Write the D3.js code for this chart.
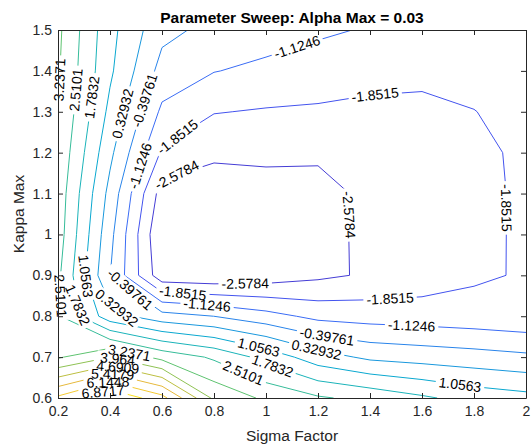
<!DOCTYPE html>
<html>
<head>
<meta charset="utf-8">
<script src="https://cdn.jsdelivr.net/npm/d3@7"></script>
<style>
  body { margin: 0; background: #fff; }
  text { font-family: Arial, "Liberation Sans", Helvetica, sans-serif; }
</style>
</head>
<body>
<svg id="chart" width="532" height="446"></svg>
<script>
// grid of the sweep
const sigmaFactor = [0.2, 0.4, 0.6, 0.8, 1.0, 1.2, 1.4, 1.6, 1.8, 2.0];
const kappaMax = [0.6, 0.7, 0.8, 0.9, 1.0, 1.1, 1.2, 1.3, 1.4, 1.5];

// one row per kappaMax value, one column per sigmaFactor value
const zValues = [
  [6.30, 7.60, 6.40, 3.80, 3.10, 2.60, 2.30, 1.90, 1.50, 1.29],
  [3.15, 3.95, 3.00, 2.40, 1.53, 0.66, 0.18, 0.03, -0.10, -0.25],
  [2.60, 0.63, -0.10, -0.40, -0.85, -1.32, -1.43, -1.49, -1.58, -1.70],
  [2.66, -0.38, -3.06, -3.15, -3.00, -2.73, -2.48, -2.25, -1.95, -1.79],
  [2.87, -0.18, -3.30, -3.10, -2.95, -2.75, -2.46, -2.30, -2.10, -1.70],
  [2.95, 0.10, -2.90, -2.96, -2.91, -2.85, -2.40, -2.30, -2.10, -1.70],
  [3.10, 0.50, -1.95, -2.45, -2.40, -2.45, -2.30, -2.20, -2.05, -1.69],
  [3.24, 0.87, -1.27, -1.82, -1.91, -1.94, -2.01, -2.00, -1.86, -1.72],
  [3.32, 1.18, -0.66, -1.10, -1.29, -1.50, -1.62, -1.70, -1.72, -1.70],
  [3.39, 1.28, -0.20, -0.60, -0.80, -1.00, -1.19, -1.30, -1.40, -1.50]
];

const levelList = [-2.5784, -1.8515, -1.1246, -0.39761, 0.32932, 1.0563, 1.7832,
  2.5101, 3.2371, 3.964, 4.6909, 5.4179, 6.1448, 6.8717];

const xTicks = [0.2, 0.4, 0.6, 0.8, 1, 1.2, 1.4, 1.6, 1.8, 2];
const yTicks = [0.6, 0.7, 0.8, 0.9, 1, 1.1, 1.2, 1.3, 1.4, 1.5];

// where clabel put the labels (sigma, kappa), snapped onto the line below
const labelSpots = [
  [3.2371, 0.215, 1.378], [2.5101, 0.273, 1.353], [1.7832, 0.323, 1.336],
  [0.32932, 0.438, 1.297], [-0.39761, 0.527, 1.329], [-1.1246, 0.504, 1.17],
  [-1.8515, 0.66, 1.238], [-2.5784, 0.66, 1.14], [-1.1246, 1.12, 1.458],
  [-1.8515, 1.42, 1.34], [-2.5784, 1.315, 1.048], [-1.8515, 1.927, 1.065],
  [-2.5784, 0.92, 0.879], [-1.8515, 0.68, 0.857], [-1.1246, 0.773, 0.823],
  [-1.8515, 1.477, 0.845], [-1.1246, 1.56, 0.776], [-0.39761, 0.477, 0.866],
  [0.32932, 0.43, 0.825], [1.0563, 0.315, 0.9], [2.5101, 0.23, 0.85],
  [1.7832, 0.30, 0.83], [3.2371, 0.477, 0.717], [3.964, 0.43, 0.698],
  [4.6909, 0.43, 0.676], [5.4179, 0.41, 0.658], [6.1448, 0.39, 0.644],
  [6.8717, 0.37, 0.622], [-0.39761, 1.235, 0.752], [0.32932, 1.196, 0.722],
  [1.0563, 0.973, 0.727], [1.7832, 1.035, 0.698], [2.5101, 0.93, 0.686],
  [1.0563, 1.746, 0.632]
];

const W = 532, H = 446;
const axisColor = '#262626';
const svg = d3.select('#chart');

const x = d3.scaleLinear().domain([0.2, 2]).range([58, 526]);
const y = d3.scaleLinear().domain([0.6, 1.5]).range([398, 30]);
const plotLeft = x.range()[0], plotRight = x.range()[1];
const plotTop = y.range()[1], plotBottom = y.range()[0];

// parula over the data range (one level step beyond the outer levels)
const step = levelList[1] - levelList[0];
const parulaStops = ['#3e26a8', '#4747eb', '#3a6cf5', '#2090e4', '#0aa8d0', '#22b9ad',
  '#5ec370', '#a8c244', '#e6b93c', '#fbd22e', '#f9fb0e'];
const zLo = levelList[0] - step, zHi = levelList[levelList.length - 1] + step;
const color = d3.scaleLinear()
  .domain(parulaStops.map((_, i) => zLo + (zHi - zLo) * i / (parulaStops.length - 1)))
  .range(parulaStops);

// contours over the grid
const nx = sigmaFactor.length, ny = kappaMax.length;
const flat = [];
zValues.forEach(row => row.forEach(v => flat.push(v)));
const gx = d3.scaleLinear().domain([0.5, nx - 0.5]).range([x(sigmaFactor[0]), x(sigmaFactor[nx - 1])]);
const gy = d3.scaleLinear().domain([0.5, ny - 0.5]).range([y(kappaMax[0]), y(kappaMax[ny - 1])]);
const contours = d3.contours().size([nx, ny]).thresholds(levelList)(flat);
const path = d3.geoPath(d3.geoTransform({
  point: function (a, b) { this.stream.point(gx(a), gy(b)); }
}));

const defs = svg.append('defs');
defs.append('clipPath').attr('id', 'plotClip')
  .append('rect').attr('x', plotLeft).attr('y', plotTop)
  .attr('width', plotRight - plotLeft).attr('height', plotBottom - plotTop);
const mask = defs.append('mask').attr('id', 'labelMask')
  .attr('maskUnits', 'userSpaceOnUse')
  .attr('x', 0).attr('y', 0).attr('width', W).attr('height', H);
mask.append('rect').attr('width', W).attr('height', H).attr('fill', '#fff');

// pixel polylines per level, only the parts inside the axes
function inside(p) {
  return p[0] >= plotLeft - 0.5 && p[0] <= plotRight + 0.5 &&
    p[1] >= plotTop - 0.5 && p[1] <= plotBottom + 0.5;
}
const runsByLevel = new Map();
contours.forEach(c => {
  const runs = [];
  c.coordinates.forEach(poly => poly.forEach(ring => {
    let run = [];
    ring.forEach(([a, b]) => {
      const p = [gx(a), gy(b)];
      if (inside(p)) run.push(p);
      else { if (run.length > 1) runs.push(run); run = []; }
    });
    if (run.length > 1) runs.push(run);
  }));
  runsByLevel.set(c.value, runs);
});

function placeOnLine(runs, px, py, half) {
  let best = null;
  runs.forEach(run => {
    for (let i = 0; i < run.length - 1; i++) {
      const [x1, y1] = run[i], [x2, y2] = run[i + 1];
      const dx = x2 - x1, dy = y2 - y1, L2 = dx * dx + dy * dy || 1e-9;
      let t = ((px - x1) * dx + (py - y1) * dy) / L2;
      t = Math.max(0, Math.min(1, t));
      const qx = x1 + t * dx, qy = y1 + t * dy;
      const d = (qx - px) ** 2 + (qy - py) ** 2;
      if (!best || d < best.d) best = { d, run, i, t, qx, qy };
    }
  });
  if (!best) return null;
  const run = best.run, cum = [0];
  for (let i = 1; i < run.length; i++) {
    cum.push(cum[i - 1] + Math.hypot(run[i][0] - run[i - 1][0], run[i][1] - run[i - 1][1]));
  }
  const total = cum[cum.length - 1];
  const at = s => {
    s = Math.max(0, Math.min(total, s));
    let i = 0;
    while (i < cum.length - 2 && cum[i + 1] < s) i++;
    const seg = cum[i + 1] - cum[i] || 1e-9, f = (s - cum[i]) / seg;
    return [run[i][0] + f * (run[i + 1][0] - run[i][0]), run[i][1] + f * (run[i + 1][1] - run[i][1])];
  };
  const s0 = cum[best.i] + best.t * (cum[best.i + 1] - cum[best.i]);
  const a = at(s0 - half), b = at(s0 + half);
  let ang = Math.atan2(b[1] - a[1], b[0] - a[0]) * 180 / Math.PI;
  if (ang > 90) ang -= 180;
  if (ang <= -90) ang += 180;
  return { x: best.qx, y: best.qy, angle: ang };
}

// contour lines
svg.append('g')
  .attr('clip-path', 'url(#plotClip)')
  .append('g').attr('mask', 'url(#labelMask)')
  .selectAll('path')
  .data(contours)
  .join('path')
  .attr('d', path)
  .attr('fill', 'none')
  .attr('stroke', d => color(d.value))
  .attr('stroke-width', 1);

// contour labels, plain hyphen minus like MATLAB
const labelLayer = svg.append('g');
labelSpots.forEach(([level, s, k]) => {
  const t = labelLayer.append('text')
    .attr('font-size', 14).attr('fill', '#000')
    .attr('text-anchor', 'middle').attr('dy', '0.35em')
    .text(String(level));
  const w = t.node().getComputedTextLength();
  const spot = placeOnLine(runsByLevel.get(level) || [], x(s), y(k), w / 2 + 3);
  if (!spot) { t.remove(); return; }
  t.attr('transform', `translate(${spot.x},${spot.y}) rotate(${spot.angle})`);
  mask.append('rect')
    .attr('x', -w / 2 - 3).attr('y', -7).attr('width', w + 6).attr('height', 14)
    .attr('fill', '#000')
    .attr('transform', `translate(${spot.x},${spot.y}) rotate(${spot.angle})`);
});

// axes, ticks inside on all four sides
const tick = 5;
function styleAxis(g) {
  g.selectAll('.domain').attr('stroke', axisColor);
  g.selectAll('.tick line').attr('stroke', axisColor);
  g.selectAll('.tick text').attr('fill', axisColor).attr('font-size', 14)
    .attr('font-family', 'Arial, "Liberation Sans", Helvetica, sans-serif');
}
svg.append('g').attr('transform', `translate(0,${plotBottom})`)
  .call(d3.axisBottom(x).tickValues(xTicks).tickFormat(d3.format('~g'))
    .tickSizeInner(-tick).tickSizeOuter(0).tickPadding(8))
  .call(styleAxis);
svg.append('g').attr('transform', `translate(0,${plotTop})`)
  .call(d3.axisTop(x).tickValues(xTicks).tickFormat('')
    .tickSizeInner(-tick).tickSizeOuter(0))
  .call(styleAxis);
svg.append('g').attr('transform', `translate(${plotLeft},0)`)
  .call(d3.axisLeft(y).tickValues(yTicks).tickFormat(d3.format('~g'))
    .tickSizeInner(-tick).tickSizeOuter(0).tickPadding(6))
  .call(styleAxis);
svg.append('g').attr('transform', `translate(${plotRight},0)`)
  .call(d3.axisRight(y).tickValues(yTicks).tickFormat('')
    .tickSizeInner(-tick).tickSizeOuter(0))
  .call(styleAxis);

// titles
svg.append('text')
  .attr('x', (plotLeft + plotRight) / 2).attr('y', 22.5)
  .attr('text-anchor', 'middle').attr('font-size', 15.5).attr('font-weight', 'bold')
  .attr('fill', '#000')
  .text('Parameter Sweep: Alpha Max = 0.03');
svg.append('text')
  .attr('x', (plotLeft + plotRight) / 2).attr('y', 441)
  .attr('text-anchor', 'middle').attr('font-size', 15.5).attr('fill', axisColor)
  .text('Sigma Factor');
svg.append('text')
  .attr('transform', `translate(24,${(plotTop + plotBottom) / 2}) rotate(-90)`)
  .attr('text-anchor', 'middle').attr('font-size', 15.5).attr('fill', axisColor)
  .text('Kappa Max');
</script>
</body>
</html>
